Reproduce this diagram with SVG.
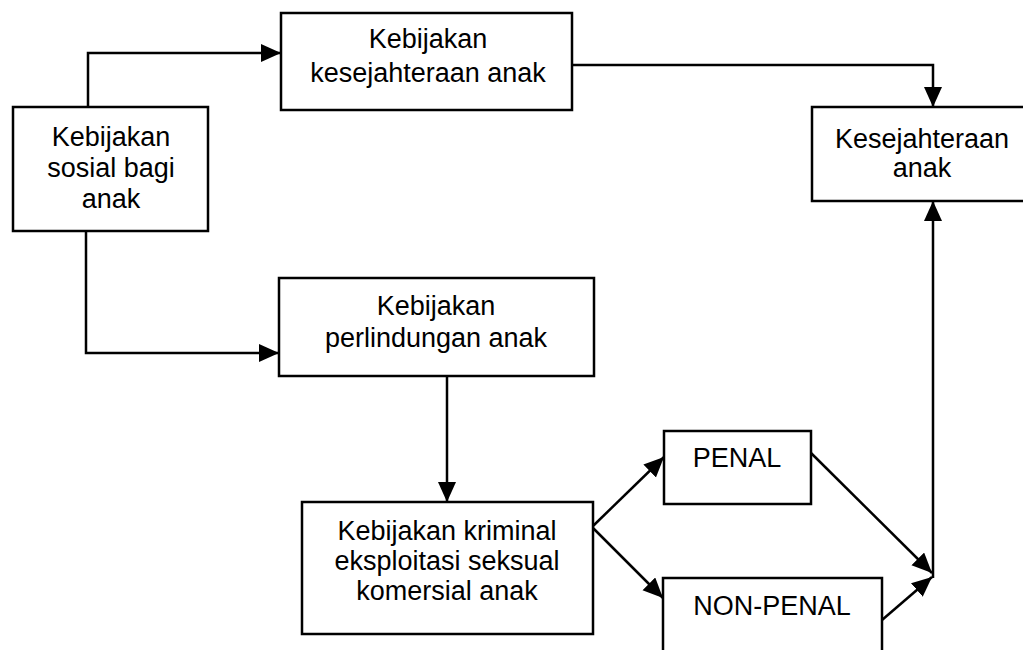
<svg xmlns="http://www.w3.org/2000/svg" width="1023" height="650" viewBox="0 0 1023 650">
<style>
.box{fill:#fff;stroke:#000;stroke-width:2.5}
.t{font-family:"Liberation Sans",Arial,sans-serif;font-size:27px;fill:#000;text-anchor:middle}
.c{fill:none;stroke:#000;stroke-width:2.5;marker-end:url(#ah)}
</style>
<defs>
<marker id="ah" markerUnits="userSpaceOnUse" markerWidth="22" markerHeight="20" refX="20" refY="9" orient="auto">
<path d="M0,0 L20,9 L0,18 z" fill="#000"/>
</marker>
</defs>
<rect width="1023" height="650" fill="#fff"/>
<g id="connectors">
<path class="c" d="M88,107 V53 H281"/>
<path class="c" d="M572,65 H933 V107"/>
<path class="c" d="M86,231 V353 H279"/>
<path class="c" d="M447,376 V502"/>
<path class="c" d="M593,526 L664,457"/>
<path class="c" d="M593,528 L663,598"/>
<path class="c" d="M811,453 L932,573"/>
<path class="c" d="M882,620 L932,577"/>
<path class="c" d="M933,578 V201"/>
</g>
<g id="n-sosial">
<rect class="box" x="13" y="107" width="195" height="124"/>
<text class="t" x="111" y="146">Kebijakan</text>
<text class="t" x="111" y="177">sosial bagi</text>
<text class="t" x="111" y="208">anak</text>
</g>
<g id="n-kesejahteraan-kebijakan">
<rect class="box" x="281" y="13" width="291" height="97"/>
<text class="t" x="428" y="48">Kebijakan</text>
<text class="t" x="428" y="82">kesejahteraan anak</text>
</g>
<g id="n-kesejahteraan">
<rect class="box" x="812" y="107" width="230" height="94"/>
<text class="t" x="922" y="148">Kesejahteraan</text>
<text class="t" x="922" y="177">anak</text>
</g>
<g id="n-perlindungan">
<rect class="box" x="279" y="278" width="315" height="98"/>
<text class="t" x="436" y="315">Kebijakan</text>
<text class="t" x="436" y="347">perlindungan anak</text>
</g>
<g id="n-kriminal">
<rect class="box" x="302" y="502" width="291" height="132"/>
<text class="t" x="447" y="540">Kebijakan kriminal</text>
<text class="t" x="447" y="570">eksploitasi seksual</text>
<text class="t" x="447" y="600">komersial anak</text>
</g>
<g id="n-penal">
<rect class="box" x="664" y="431" width="147" height="73"/>
<text class="t" x="737" y="467">PENAL</text>
</g>
<g id="n-nonpenal">
<rect class="box" x="663" y="578" width="219" height="90"/>
<text class="t" x="772" y="615">NON-PENAL</text>
</g>
</svg>
